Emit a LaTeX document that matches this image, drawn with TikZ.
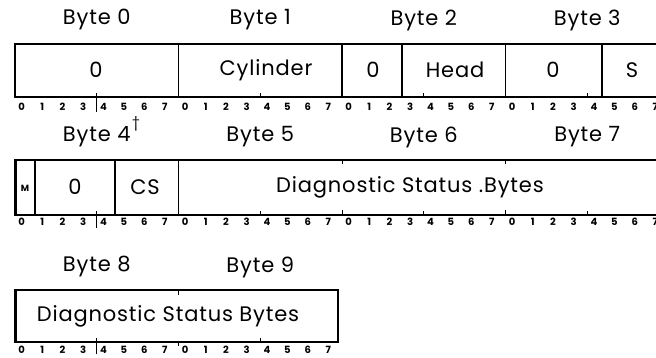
\documentclass[tikz,border=0pt]{standalone}
\usepackage{fontspec}
\setmainfont{Poppins}[LetterSpace=4]
\newfontfamily\bitfont{Poppins}[LetterSpace=0]
\begin{document}
\begin{tikzpicture}[x=1pt,y=-1pt,
  box/.style={draw=black,line width=1.3pt},
  divl/.style={draw=black,line width=1.1pt},
  tick/.style={draw=black,line width=0.8pt},
  ttl/.style={font=\fontsize{21}{24}\selectfont,inner sep=0pt},
  fld/.style={font=\fontsize{21}{24}\selectfont,inner sep=0pt},
  bit/.style={font=\bitfont\bfseries\fontsize{10}{10}\selectfont,inner sep=0pt}]
\useasboundingbox (0,0) rectangle (656,358);
\def\bw{163.5}
% ---------- Row 1 ----------
\foreach \i/\n in {0/0,1/1,2/2,3/3}{
  \node[ttl] (t\n) at ({15+\i*\bw+81.75},20) {Byte \n};
}
\draw[box] (669,44) -- (15,44) -- (15,97) -- (669,97);
\foreach \x in {178.5,342,402,505.5,602}{ \draw[divl] (\x,44) -- (\x,97); }
\node[fld] (f0) at (96,70) {0};
\node[fld] (f1) at (266,70) {Cylinder};
\node[fld] (f2) at (373,70) {0};
\node[fld] (f3) at (455,70) {Head};
\node[fld] (f4) at (553,70) {0};
\node[fld] (f5) at (632,70) {S};
\foreach \i in {0,1,2,3}{
  \draw[tick] ({15+\i*\bw+81.75},97) -- ++(0,-4);
  \foreach \b in {0,...,7}{
    \node[bit] at ({15+\i*\bw+(\b+0.5)*\bw/8-3.5},107) {\b};
  }
}
\draw[tick] ({15+81.75},97) -- ++(0,15);
% ---------- Row 2 ----------
\node[ttl] (t4) at ({15+81.75},137) {Byte 4};
\node[inner sep=0pt,font=\fontsize{14}{14}\selectfont] (dg) at (136,124) {†};
\foreach \i/\n in {1/5,2/6,3/7}{
  \node[ttl] (t\n) at ({15+\i*\bw+81.75},137) {Byte \n};
}
\draw[box] (669,160) -- (15,160) -- (15,215) -- (669,215);
\draw[line width=2.6pt] (15.6,159.4) -- (15.6,215.6);
\foreach \x in {35,115,178.5}{ \draw[divl] (\x,160) -- (\x,215); }
\node[inner sep=0pt,font=\bitfont\bfseries\fontsize{9}{9}\selectfont] (fm) at (25,188) {M};
\node[fld] (f6) at (75,187) {0};
\node[fld] (f7) at (145,187) {CS};
\node[fld] (f8) at (410,187) {Diagnostic Status .Bytes};
\foreach \i in {0,1,2,3}{
  \draw[tick] ({15+\i*\bw+81.75},215) -- ++(0,-4);
  \foreach \b in {0,...,7}{
    \node[bit] at ({15+\i*\bw+(\b+0.5)*\bw/8-3.5},222) {\b};
  }
}
\draw[tick] ({15+81.75},215) -- ++(0,13);
\foreach \i in {2,3}{
  \draw[tick] ({15+\i*\bw},160) -- ++(0,4);
  \draw[tick] ({15+\i*\bw},215) -- ++(0,-5);
}
% ---------- Row 3 ----------
\node[ttl] (t8) at ({15+81.75},267) {Byte 8};
\node[ttl] (t9) at ({15+\bw+81.75},267) {Byte 9};
\draw[box] (15,290) rectangle (338,342);
\draw[line width=2.2pt] (15.4,289.4) -- (15.4,342.6);
\node[fld] (f9) at (168,316) {Diagnostic Status Bytes};
\foreach \i in {0,1}{
  \draw[tick] ({15+\i*\bw+81.75},342) -- ++(0,-4);
  \foreach \b in {0,...,7}{
    \node[bit] at ({15+\i*\bw+(\b+0.5)*\bw/8-3.5},350) {\b};
  }
}
\draw[tick] ({15+81.75},342) -- ++(0,12);
\draw[tick] ({15+\bw},290) -- ++(0,5);
\draw[tick] ({15+\bw},342) -- ++(0,4);
\end{tikzpicture}
\end{document}
